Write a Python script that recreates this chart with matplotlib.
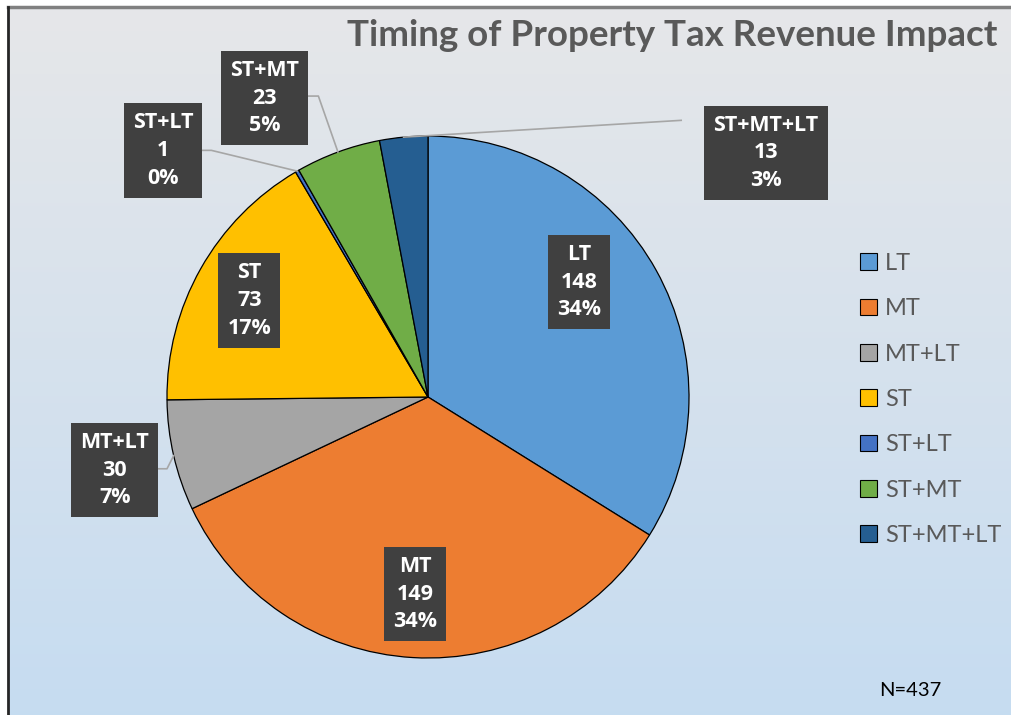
import numpy as np
import matplotlib
matplotlib.use('Agg')
import matplotlib.pyplot as plt
from matplotlib.patches import Patch
from matplotlib.lines import Line2D

plt.rcParams['font.family'] = ['Lato', 'DejaVu Sans']

# data
categories = ['LT', 'MT', 'MT+LT', 'ST', 'ST+LT', 'ST+MT', 'ST+MT+LT']
counts = [148, 149, 30, 73, 1, 23, 13]
colors = ['#5B9BD5', '#ED7D31', '#A5A5A5', '#FFC000', '#4472C4', '#70AD47', '#255E91']
title = 'Timing of Property Tax Revenue Impact'
note = 'N=437'

# label box centres (pie-radius units) and which labels get a leader line
label_pos = [(0.58, 0.44), (-0.05, -0.755), (-1.20, -0.28), (-0.685, 0.37),
             (-1.015, 0.945), (-0.625, 1.145), (1.295, 0.935)]
leaders = {
    'MT+LT': [(-1.045, -0.275), (-1.0, -0.275)],
    'ST+LT': [(-0.87, 0.945), (-0.83, 0.945)],
    'ST+MT': [(-0.46, 1.153), (-0.42, 1.153)],
    'ST+MT+LT': [(0.97, 1.06)],
}

W, H = 1011, 715
fig = plt.figure(figsize=(W / 100, H / 100), dpi=100)
fig.patch.set_facecolor('white')

# gradient background
bg = fig.add_axes([8 / W, 0, 1 - 8 / W, 1 - 7 / H])
top = np.array([0.902, 0.906, 0.914])
bot = np.array([0.776, 0.863, 0.945])
t = np.linspace(0, 1, 256)[:, None]
grad = top[None, :] * (1 - t) + bot[None, :] * t
bg.imshow(grad[:, None, :], aspect='auto', extent=[0, 1, 0, 1])
bg.set_axis_off()

# border lines
fig.add_artist(Line2D([7.5 / W, 1], [1 - 6.5 / H, 1 - 6.5 / H], color='#808080', lw=2.5,
                      transform=fig.transFigure))
fig.add_artist(Line2D([7.5 / W, 7.5 / W], [0, 1 - 6.5 / H], color='#262626', lw=2,
                      transform=fig.transFigure))

# pie
cx, cy, R = 428, 397, 261
ax = fig.add_axes([(cx - R) / W, (H - cy - R) / H, 2 * R / W, 2 * R / H])
wedges, _ = ax.pie(counts, colors=colors, startangle=90, counterclock=False, radius=1,
                   wedgeprops=dict(edgecolor='black', linewidth=0.9))
ax.set_xlim(-1, 1)
ax.set_ylim(-1, 1)
ax.set_aspect('equal')
ax.set_axis_off()

total = sum(counts)
for w, cat, n, (lx, ly) in zip(wedges, categories, counts, label_pos):
    ang = np.deg2rad((w.theta1 + w.theta2) / 2)
    if cat in leaders:
        pts = leaders[cat] + [(np.cos(ang), np.sin(ang))]
        xs, ys = zip(*pts)
        ax.plot(xs, ys, color='#a6a6a6', lw=1.2, clip_on=False, zorder=3)
    ax.text(lx, ly, f'{cat}\n{n}\n{round(n / total * 100)}%', ha='center', va='center',
            color='white', fontsize=15.5, fontweight='bold', linespacing=1.42,
            family=['Open Sans', 'DejaVu Sans'],
            bbox=dict(boxstyle='square,pad=0.42', fc='#404040', ec='none'), zorder=4)

fig.text(347 / W, 1 - 35 / H, title, ha='left', va='center', fontsize=26.5,
         fontweight='bold', color='#595959')

handles = [Patch(facecolor=c, edgecolor='black', linewidth=0.8) for c in colors]
fig.legend(handles, categories, loc='upper left', bbox_to_anchor=(860 / W, 1 - 253 / H),
           frameon=False, fontsize=17, labelcolor='#595959', handlelength=0.7,
           handleheight=0.7, handletextpad=0.35, labelspacing=1.03, borderpad=0,
           borderaxespad=0)

fig.text(910 / W, 1 - 690 / H, note, ha='center', va='center', fontsize=14.5, color='black')

fig.savefig('out.png', dpi=100)
